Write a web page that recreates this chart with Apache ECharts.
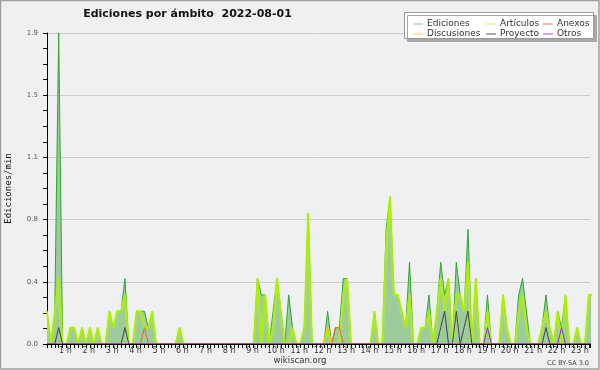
<!DOCTYPE html>
<html><head><meta charset="utf-8">
<script src="https://cdn.jsdelivr.net/npm/echarts@6/dist/echarts.min.js"></script>
<style>html,body{margin:0;padding:0;background:#f0f0f0}#c{width:600px;height:370px}</style>
</head><body><div id="c"></div>
<script>
// 10-minute bins, 0 = 00:00 ... 139 = 23:10
const titleText = 'Ediciones por ámbito  2022-08-01';
const seriesNames = ['Ediciones', 'Artículos', 'Anexos', 'Discusiones', 'Proyecto', 'Otros'];
const ediciones = [
  0.2,0,0.2,1.9,0,0,0.1,0.1,0,0.1,0,0.1,
  0,0.1,0,0,0.2,0.1,0.2,0.2,0.4,0,0,0.2,
  0.2,0.2,0.1,0.2,0,0,0,0,0,0,0.1,0,
  0,0,0,0,0,0,0,0,0,0,0,0,
  0,0,0,0,0,0,0.4,0.3,0.3,0,0.2,0.4,
  0.2,0,0.3,0.1,0,0,0.1,0.8,0,0,0,0,
  0.2,0,0.1,0.1,0.4,0.4,0,0,0,0,0,0,
  0.2,0,0,0.7,0.9,0.3,0.3,0.2,0.1,0.5,0,0,
  0.1,0.1,0.3,0,0.2,0.5,0.3,0.4,0,0.5,0.3,0.2,
  0.7,0,0.4,0,0,0.3,0,0,0,0.3,0.1,0,
  0,0.3,0.4,0.2,0,0,0,0.1,0.3,0.1,0,0.2,
  0.1,0.3,0,0,0.1,0,0,0.3,0.3
];
const articulos = [
  0.2,0,0.2,0.4,0,0,0.1,0.1,0,0.1,0,0.1,
  0,0.1,0,0,0.2,0.1,0.2,0.2,0.3,0,0,0.2,
  0.2,0.1,0.1,0.2,0,0,0,0,0,0,0.1,0,
  0,0,0,0,0,0,0,0,0,0,0,0,
  0,0,0,0,0,0,0.4,0,0.3,0,0.1,0.4,
  0.2,0,0,0.1,0,0,0.1,0.8,0,0,0,0,
  0.1,0,0,0,0.3,0.4,0,0,0,0,0,0,
  0.2,0,0,0.6,0.9,0.3,0.3,0.2,0.1,0.3,0,0,
  0.1,0.1,0.2,0,0.2,0.4,0.2,0.4,0,0.3,0.3,0.2,
  0.5,0,0.4,0,0,0.2,0,0,0,0.3,0.1,0,
  0,0.2,0.3,0.1,0,0,0,0.1,0.2,0.1,0,0.2,
  0,0.3,0,0,0.1,0,0,0.3,0.3
];
const anexos = [
  0,0,0,0,0,0,0,0,0,0,0,0,
  0,0,0,0,0,0,0,0,0,0,0,0,
  0,0.1,0,0,0,0,0,0,0,0,0,0,
  0,0,0,0,0,0,0,0,0,0,0,0,
  0,0,0,0,0,0,0,0,0,0,0,0,
  0,0,0,0,0,0,0,0,0,0,0,0,
  0,0,0.1,0.1,0,0,0,0,0,0,0,0,
  0,0,0,0,0,0,0,0,0,0,0,0,
  0,0,0,0,0,0,0,0,0,0,0,0,
  0,0,0,0,0,0,0,0,0,0,0,0,
  0,0,0,0,0,0,0,0,0,0,0,0,
  0,0,0,0,0,0,0,0,0
];
const discusiones = [
  0,0,0,0,0,0,0,0,0,0,0,0,
  0,0,0,0,0,0,0,0,0,0,0,0,
  0,0,0,0,0,0,0,0,0,0,0,0,
  0,0,0,0,0,0,0,0,0,0,0,0,
  0,0,0,0,0,0,0,0,0,0,0,0,
  0,0,0,0,0,0,0,0,0,0,0,0,
  0.1,0,0,0,0,0,0,0,0,0,0,0,
  0,0,0,0,0,0,0,0,0,0,0,0,
  0,0,0,0,0,0,0,0,0,0,0,0,
  0,0,0,0,0,0,0,0,0,0,0,0,
  0,0,0,0,0,0,0,0,0,0,0,0,
  0,0,0,0,0,0,0,0,0
];
const proyecto = [
  0,0,0,0.1,0,0,0,0,0,0,0,0,
  0,0,0,0,0,0,0,0,0.1,0,0,0,
  0,0,0,0,0,0,0,0,0,0,0,0,
  0,0,0,0,0,0,0,0,0,0,0,0,
  0,0,0,0,0,0,0,0,0,0,0,0,
  0,0,0,0,0,0,0,0,0,0,0,0,
  0,0,0,0,0,0,0,0,0,0,0,0,
  0,0,0,0,0,0,0,0,0,0,0,0,
  0,0,0,0,0,0.1,0.2,0,0,0.2,0,0.1,
  0.2,0,0,0,0,0,0,0,0,0,0,0,
  0,0,0,0,0,0,0,0,0.1,0,0,0,
  0,0,0,0,0,0,0,0,0
];
const otros = [
  0,0,0,0,0,0,0,0,0,0,0,0,
  0,0,0,0,0,0,0,0,0,0,0,0,
  0,0,0,0,0,0,0,0,0,0,0,0,
  0,0,0,0,0,0,0,0,0,0,0,0,
  0,0,0,0,0,0,0,0,0,0,0,0,
  0,0,0,0,0,0,0,0,0,0,0,0,
  0,0,0,0,0,0,0,0,0,0,0,0,
  0,0,0,0,0,0,0,0,0,0,0,0,
  0,0,0,0,0,0,0,0,0,0,0,0,
  0,0,0,0,0,0.1,0,0,0,0,0,0,
  0,0,0,0,0,0,0,0,0,0,0,0,
  0.1,0,0,0,0,0,0,0,0
];
const yMax = 1.9;
const yStep = 0.38;
const binsPerHour = 6;
const xMax = 139.3;

const FONT = 'DejaVu Sans';
const chart = echarts.init(document.getElementById('c'), null, {renderer: 'canvas'});
const pairs = a => a.map((v, i) => [i, v]);
const lineColors = ['#2fa62f', '#aaee00', '#ee6622', '#f5c400', '#444444', '#8033e6'];
const legendColors = ['#88d088', '#d0f060', '#f08050', '#f8d040', '#555555', '#9050f0'];
const leg = (names, left) => ({
  orient: 'vertical', left: left, top: 14, itemGap: 0, itemWidth: 10, itemHeight: 10,
  icon: 'path://M0,4.5 L10,4.5 L10,5.5 L0,5.5 Z',
  textStyle: {fontFamily: FONT, fontSize: 9, color: '#333', lineHeight: 10, padding: [0, 0, 0, -1]},
  data: names.map(n => ({name: n, itemStyle: {color: legendColors[seriesNames.indexOf(n)]}}))
});
const series = [ediciones, articulos, anexos, discusiones, proyecto, otros].map((d, k) => ({
  name: seriesNames[k], type: 'line', data: pairs(d), symbol: 'none', z: 2 + k,
  lineStyle: k === 1 ? {color: lineColors[k], width: 1.6, shadowBlur: 1.5, shadowColor: 'rgba(220,255,60,0.8)'} : {color: lineColors[k], width: 1},
  itemStyle: {color: lineColors[k]},
  areaStyle: k === 0 ? {color: '#9ccb9c', opacity: 1} : undefined
}));

chart.setOption({
  animation: false,
  backgroundColor: '#f0f0f0',
  grid: {left: 47, right: 10, top: 33, bottom: 26, outerBoundsMode: 'none', containLabel: false, show: true, backgroundColor: '#eef0f2', borderWidth: 0},
  legend: [leg(['Ediciones', 'Discusiones'], 408), leg(['Artículos', 'Proyecto'], 481), leg(['Anexos', 'Otros'], 538)],
  xAxis: {
    type: 'value', min: 0, max: xMax, interval: 1, z: 10,
    axisLine: {show: true, onZero: false, lineStyle: {color: '#000', width: 1}},
    axisTick: {show: true, length: 4, lineStyle: {color: '#000'}},
    splitLine: {show: false},
    axisLabel: {
      fontFamily: FONT, fontSize: 8, color: '#333', margin: 3, padding: [0, 10, 0, 0],
      formatter: v => (v > 0 && Math.abs(v % binsPerHour) < 1e-9) ? (v / binsPerHour) + ' h' : ''
    }
  },
  yAxis: {
    type: 'value', min: 0, max: yMax, interval: yStep,
    axisLine: {show: true, lineStyle: {color: '#000'}},
    axisTick: {show: true, length: 4, lineStyle: {color: '#000'}},
    minorTick: {show: true, splitNumber: 4, length: 4, lineStyle: {color: '#000'}},
    splitLine: {show: true, lineStyle: {color: '#cccccc'}},
    axisLabel: {fontFamily: FONT, fontSize: 7, color: '#555', margin: 9, formatter: v => v.toFixed(1)},
    name: 'Ediciones/min', nameLocation: 'middle', nameGap: 34,
    nameTextStyle: {fontFamily: 'DejaVu Sans Mono', fontSize: 9, color: '#111'}
  },
  graphic: [
    {type: 'rect', z: 100, silent: true, shape: {x: 0.5, y: 0.5, width: 598.5, height: 368.5}, style: {fill: 'none', stroke: '#a0a0a0', lineWidth: 1.5}},
    {type: 'rect', z: 1, shape: {x: 404.5, y: 12.5, width: 189, height: 26}, style: {fill: '#fff', stroke: '#999', lineWidth: 1, shadowColor: '#a8a8a8', shadowOffsetX: 3, shadowOffsetY: 3, shadowBlur: 0}},
    {type: 'text', x: 187.5, y: 14, z: 5, style: {text: titleText, font: 'bold 11px "DejaVu Sans"', fill: '#111', textAlign: 'center', textVerticalAlign: 'middle'}},
    {type: 'text', x: 300, y: 361, z: 5, style: {text: 'wikiscan.org', font: '8.5px "DejaVu Sans"', fill: '#333', textAlign: 'center', textVerticalAlign: 'middle'}},
    {type: 'text', x: 589, y: 363, z: 5, style: {text: 'CC BY-SA 3.0', font: '6.5px "DejaVu Sans"', fill: '#444', textAlign: 'right', textVerticalAlign: 'middle'}}
  ],
  series: series
});
</script></body></html>
